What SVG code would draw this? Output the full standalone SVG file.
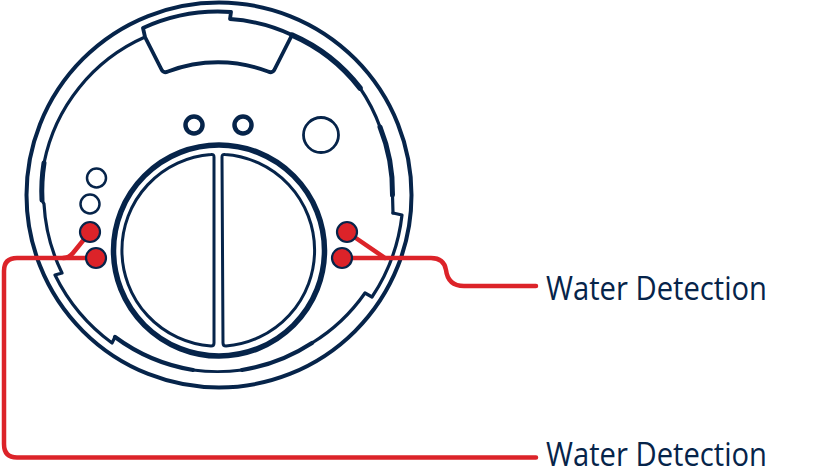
<svg xmlns="http://www.w3.org/2000/svg" width="831" height="476" viewBox="0 0 831 476">
<style>
.n{fill:none;stroke:#06244a;stroke-linejoin:round;stroke-linecap:round}
.r{fill:none;stroke:#dc2329;stroke-width:4.500;stroke-linecap:round;stroke-linejoin:round}
.d{fill:#dc2329;stroke:#06244a;stroke-width:2.200}
.t{font-family:"Open Sans","Noto Sans",sans-serif;font-size:33px;fill:#06244a}
</style>
<rect width="831" height="476" fill="#fff"/>
<g id="housing">
<circle class="n" cx="219" cy="195" r="192.500" stroke-width="4"/>
<path class="n" stroke-width="3.200" d="M145 37A175 175 0 0 0 44 163"/>
<path class="n" stroke-width="5" d="M44 163A177 177 0 0 0 42 200"/>
<path class="n" stroke-width="3.200" d="M42 200L44 204A178 178 0 0 0 62 273L55 275A186 186 0 0 0 112 343L115 337"/>
<path class="n" stroke-width="4.200" d="M115 337A180 180 0 0 0 193 370"/>
<path class="n" stroke-width="2.800" d="M193 370A180 180 0 0 0 242 370"/>
<path class="n" stroke-width="4.200" d="M242 370A180 180 0 0 0 312 343"/>
<path class="n" stroke-width="3.200" d="M312 343A178 178 0 0 0 365 293L372 297A185 185 0 0 0 402 215L393 213"/>
<path class="n" stroke-width="3.200" d="M393 213L392.500 195"/>
<path class="n" stroke-width="5" d="M392.500 195A174 174 0 0 0 380 127"/>
<path class="n" stroke-width="3.200" d="M380 127A174 174 0 0 0 360 88"/>
<path class="n" stroke-width="5.500" d="M360 88A174 174 0 0 0 292 35"/>
<path class="n" stroke-width="3.800" d="M292 35A172 172 0 0 0 230 19L231 12A180 180 0 0 0 143 28L145 37L161.500 69.500Q163.500 73.500 168 71.500A140 140 0 0 1 268 71.500Q272.500 73.500 274.500 69.500L292 35"/>
</g>
<g id="dial">
<circle class="n" cx="219" cy="250.500" r="105.500" stroke-width="5.500"/>
<path class="n" stroke-width="3" d="M214 157Q214 154 211 154.500A96 96 0 0 0 211 346Q214 346 214 343Z"/>
<path class="n" stroke-width="3" d="M222 157Q222 154 225 154.500A96 96 0 0 1 226 346Q223 346 223 343Z"/>
</g>
<g id="holes">
<circle class="n" cx="194" cy="125" r="8.500" stroke-width="4.500"/>
<circle class="n" cx="243" cy="125" r="8.500" stroke-width="4.500"/>
<circle class="n" cx="321" cy="135" r="17.500" stroke-width="2.800"/>
<circle class="n" cx="96.500" cy="178" r="9.500" stroke-width="2.500"/>
<circle class="n" cx="90" cy="204" r="9.500" stroke-width="2.500"/>
</g>
<g id="connectors">
<path class="r" d="M90 232L73 253Q69 258 63 258H17Q4 258 4 271V444Q4 457.500 17 457.500H536"/>
<path class="r" d="M96 258H63"/>
<path class="r" d="M347 232L385 258"/>
<path class="r" d="M342 258H431Q444 258 446 270Q448 286 464 286H536"/>
</g>
<g id="sensors">
<circle class="d" cx="90" cy="232" r="10"/>
<circle class="d" cx="96" cy="258" r="10"/>
<circle class="d" cx="347" cy="232" r="10"/>
<circle class="d" cx="342" cy="258" r="10"/>
</g>
<g id="label-1"><text class="t" x="546" y="300" textLength="221" lengthAdjust="spacingAndGlyphs">Water Detection</text></g>
<g id="label-2"><text class="t" x="546" y="465.500" textLength="221" lengthAdjust="spacingAndGlyphs">Water Detection</text></g>
</svg>
